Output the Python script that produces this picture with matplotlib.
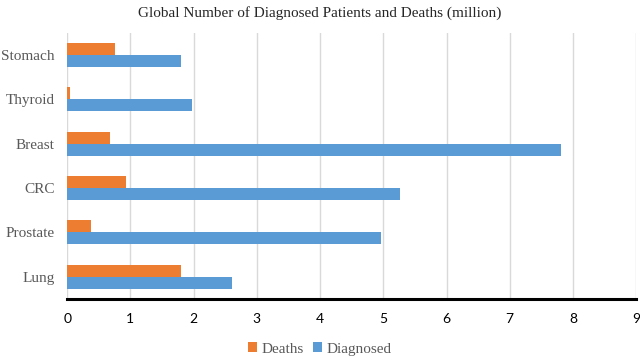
import numpy as np
import matplotlib.pyplot as plt

plt.rcParams['font.family'] = ['Liberation Serif', 'DejaVu Serif']

cancers = ['Lung', 'Prostate', 'CRC', 'Breast', 'Thyroid', 'Stomach']
deaths = [1.80, 0.37, 0.93, 0.68, 0.04, 0.76]
diagnosed = [2.61, 4.97, 5.26, 7.81, 1.98, 1.80]

fig = plt.figure(figsize=(6.4, 3.58), dpi=100)
ax = fig.add_axes([0.105, 0.165, 0.889, 0.743])

y = np.arange(len(cancers))
h = 0.27
ax.barh(y + h / 2, deaths, height=h, color='#ED7D31', label='Deaths', zorder=3)
ax.barh(y - h / 2, diagnosed, height=h, color='#5B9BD5', label='Diagnosed', zorder=3)

ax.set_xlim(0, 9)
ax.set_ylim(-0.5, len(cancers) - 0.5)
ax.set_xticks(range(10))
ax.set_yticks(y)
ax.set_yticklabels(cancers, fontsize=11, color='#595959')
ax.set_xticklabels([str(i) for i in range(10)], family='Lato', fontsize=10)
ax.tick_params(axis='both', length=0)
ax.tick_params(axis='x', pad=10)
ax.tick_params(axis='y', pad=9)

ax.grid(axis='x', color='#d9d9d9', linewidth=1, zorder=0)
for s in ['left', 'right', 'top']:
    ax.spines[s].set_visible(False)
ax.spines['bottom'].set_linewidth(2.2)
ax.spines['bottom'].set_color('black')
ax.spines['bottom'].set_zorder(4)

fig.text(0.5, 0.965, 'Global Number of Diagnosed Patients and Deaths (million)',
         ha='center', va='center', fontsize=11, color='#262626')

fig.legend(loc='center', bbox_to_anchor=(0.5, 0.025), ncol=2, frameon=False,
           fontsize=11, labelcolor='#595959',
           handlelength=0.6, handleheight=0.6, handletextpad=0.3, columnspacing=0.6)

fig.savefig('out.png', dpi=100)
